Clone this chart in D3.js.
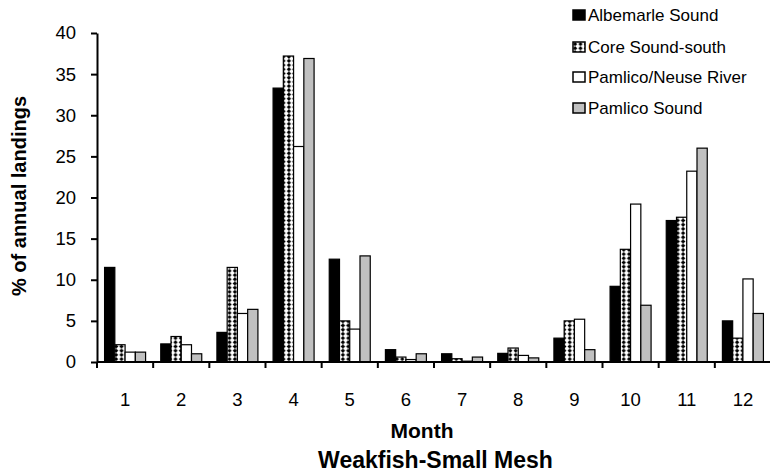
<!DOCTYPE html>
<html>
<head>
<meta charset="utf-8">
<script src="https://cdn.jsdelivr.net/npm/d3@7"></script>
<style>
  html, body { margin: 0; padding: 0; background: #fff; }
  svg { display: block; font-family: "Liberation Sans", Arial, sans-serif; }
</style>
</head>
<body>
<svg id="chart" width="770" height="473"></svg>
<script>
const months = ["1","2","3","4","5","6","7","8","9","10","11","12"];
const seriesNames = ["Albemarle Sound","Core Sound-south","Pamlico/Neuse River","Pamlico Sound"];
const albemarle = [11.5, 2.2, 3.6, 33.3, 12.5, 1.5, 1.0, 1.05, 2.9, 9.2, 17.2, 5.0];
const coreSouth = [2.1, 3.1, 11.5, 37.2, 5.0, 0.6, 0.4, 1.7, 5.0, 13.7, 17.6, 2.9];
const pamlicoNeuse = [1.2, 2.1, 5.9, 26.2, 4.0, 0.3, 0.1, 0.8, 5.2, 19.2, 23.2, 10.1];
const pamlicoSound = [1.2, 1.0, 6.4, 36.9, 12.9, 1.0, 0.6, 0.5, 1.5, 6.9, 26.0, 5.9];
const yTicks = [0, 5, 10, 15, 20, 25, 30, 35, 40];
const xTitle = "Month";
const chartTitle = "Weakfish-Small Mesh";
const yTitle = "% of annual landings";

const allSeries = [albemarle, coreSouth, pamlicoNeuse, pamlicoSound];
const fills = ["#000000", "url(#diamonds)", "#ffffff", "#c0c0c0"];

const svg = d3.select("#chart");
const defs = svg.append("defs");
const pat = defs.append("pattern")
  .attr("id", "diamonds").attr("patternUnits", "userSpaceOnUse")
  .attr("width", 5.4).attr("height", 4.2);
pat.append("rect").attr("width", 5.4).attr("height", 4.2).attr("fill", "#fff");
pat.append("path").attr("d", "M2.7,0 L4.9,2.1 L2.7,4.2 L0.5,2.1 Z").attr("fill", "#000");

const x0 = d3.scaleBand().domain(months).range([97, 771]).paddingInner(0.27).paddingOuter(0.135);
const x1 = d3.scaleBand().domain(d3.range(4)).range([0, x0.bandwidth()]).padding(0);
const y = d3.scaleLinear().domain([0, 40]).range([362, 33]);

// bars
const g = svg.append("g");
months.forEach((m, i) => {
  allSeries.forEach((s, j) => {
    const v = s[i];
    g.append("rect")
      .attr("x", x0(m) + x1(j))
      .attr("y", y(v))
      .attr("width", x1.bandwidth())
      .attr("height", y(0) - y(v))
      .attr("fill", fills[j])
      .attr("stroke", "#000")
      .attr("stroke-width", 1.2);
  });
});

// y axis
const yAxis = d3.axisLeft(y).tickValues(yTicks).tickSize(6).tickSizeOuter(0).tickPadding(15);
const ya = svg.append("g").attr("transform", "translate(97,0)").call(yAxis);
ya.select(".domain").attr("stroke", "#000").attr("stroke-width", 2);
ya.selectAll(".tick line").attr("stroke", "#000").attr("stroke-width", 2);
ya.selectAll(".tick text").attr("font-size", 18.5).attr("fill", "#000").attr("font-family", "Liberation Sans, Arial, sans-serif");

// x axis: line + ticks at category boundaries
const xa = svg.append("g");
xa.append("line").attr("x1", 97).attr("x2", 771).attr("y1", y(0)).attr("y2", y(0))
  .attr("stroke", "#000").attr("stroke-width", 2);
const step = x0.step();
d3.range(months.length + 1).forEach(k => {
  const xx = 97 + k * step;
  xa.append("line").attr("x1", xx).attr("x2", xx).attr("y1", y(0)).attr("y2", y(0) + 6)
    .attr("stroke", "#000").attr("stroke-width", 2);
});
months.forEach(m => {
  xa.append("text").attr("x", x0(m) + x0.bandwidth() / 2).attr("y", 405.5)
    .attr("text-anchor", "middle").attr("font-size", 18.5).attr("fill", "#000").text(m);
});

// titles
svg.append("text").attr("x", 422).attr("y", 437.5).attr("text-anchor", "middle")
  .attr("font-size", 21).attr("font-weight", "bold").text(xTitle);
svg.append("text").attr("x", 435.5).attr("y", 468).attr("text-anchor", "middle")
  .attr("font-size", 23).attr("font-weight", "bold").text(chartTitle);
svg.append("text").attr("transform", "translate(25.5,196) rotate(-90)").attr("text-anchor", "middle")
  .attr("font-size", 20).attr("font-weight", "bold").text(yTitle);

// legend
const legY = [15, 47, 77, 108];
seriesNames.forEach((n, j) => {
  svg.append("rect").attr("x", 573).attr("y", legY[j] - 5).attr("width", 12).attr("height", 10)
    .attr("fill", fills[j]).attr("stroke", "#000").attr("stroke-width", 1.5);
  svg.append("text").attr("x", 588).attr("y", legY[j] + 5.5).attr("font-size", 17)
    .attr("fill", "#000").text(n);
});
</script>
</body>
</html>
